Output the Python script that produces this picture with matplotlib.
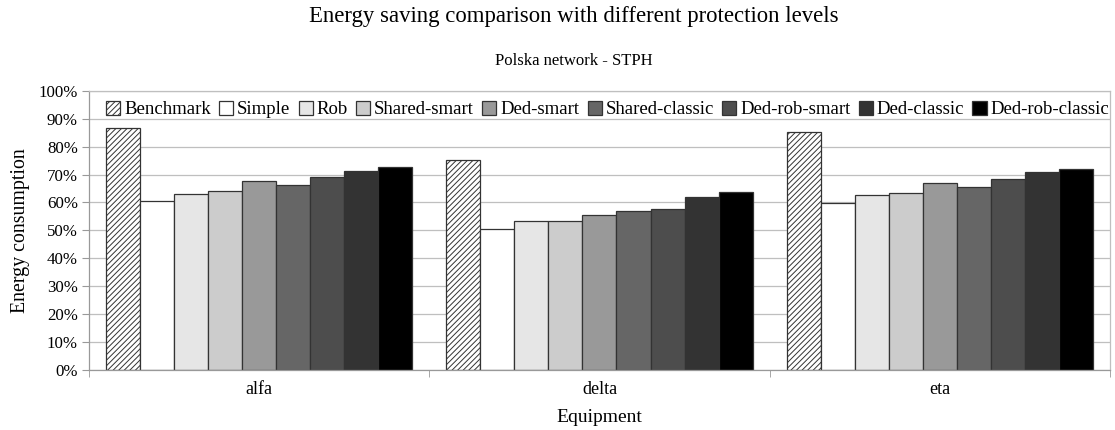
import numpy as np
import matplotlib
matplotlib.use("Agg")
import matplotlib.pyplot as plt
from matplotlib.ticker import PercentFormatter, FixedLocator

plt.rcParams['font.family'] = ['Liberation Serif', 'DejaVu Serif']
plt.rcParams['hatch.linewidth'] = 0.7

# data (percent)
equipment = ['alfa', 'delta', 'eta']
series = ['Benchmark', 'Simple', 'Rob', 'Shared-smart', 'Ded-smart',
          'Shared-classic', 'Ded-rob-smart', 'Ded-classic', 'Ded-rob-classic']
benchmark = [86.5, 75.2, 85.1]
simple = [60.5, 50.5, 59.9]
rob = [63.1, 53.3, 62.5]
shared_smart = [64.2, 53.3, 63.4]
ded_smart = [67.7, 55.6, 67.0]
shared_classic = [66.2, 57.0, 65.6]
ded_rob_smart = [69.2, 57.7, 68.5]
ded_classic = [71.3, 61.8, 70.8]
ded_rob_classic = [72.7, 63.9, 72.0]

values = [benchmark, simple, rob, shared_smart, ded_smart,
          shared_classic, ded_rob_smart, ded_classic, ded_rob_classic]
colors = ['white', 'white', '#e6e6e6', '#cccccc', '#999999',
          '#666666', '#4d4d4d', '#333333', '#000000']

fig = plt.figure(figsize=(11.15, 4.3), dpi=100)
ax = fig.add_axes([0.0798, 0.1395, 0.9157, 0.6495])

x = np.arange(len(equipment))
w = 0.1
for i, (name, vals, c) in enumerate(zip(series, values, colors)):
    pos = x - 0.45 + w / 2 + i * w
    if i == 0:
        ax.bar(pos, vals, w, color='white', edgecolor='#333333', hatch='//////',
               linewidth=0.9, label=name)
    else:
        ax.bar(pos, vals, w, color=c, edgecolor='#333333', linewidth=0.9, label=name)

ax.set_xlim(-0.5, 2.5)
ax.set_ylim(0, 100)
ax.set_yticks(np.arange(0, 101, 10))
ax.yaxis.set_major_formatter(PercentFormatter(decimals=0))
ax.grid(axis='y', color='#bfbfbf', linewidth=0.9)
ax.set_axisbelow(True)

ax.set_xticks(x)
ax.set_xticklabels(equipment)
ax.xaxis.set_minor_locator(FixedLocator([-0.5, 0.5, 1.5, 2.5]))
ax.tick_params(axis='x', which='major', length=0, labelsize=13, pad=8)
ax.tick_params(axis='x', which='minor', length=5, color='#999999')
ax.tick_params(axis='y', length=5, color='#999999', labelsize=12.2, pad=3)

for side in ['left', 'bottom', 'right', 'top']:
    ax.spines[side].set_color('#999999')
    ax.spines[side].set_linewidth(0.9)
ax.spines['top'].set_color('#bfbfbf')
ax.spines['right'].set_color('#bfbfbf')

ax.set_ylabel('Energy consumption', fontsize=14.3, labelpad=6)
ax.set_xlabel('Equipment', fontsize=14, labelpad=8)

leg = ax.legend(loc='upper center', bbox_to_anchor=(0.508, 1.0), ncol=9, frameon=False,
                fontsize=13.5, handlelength=0.75, handleheight=0.75,
                handletextpad=0.2, columnspacing=0.45, borderaxespad=0.15)

fig.text(0.5148, 0.962, 'Energy saving comparison with different protection levels',
         ha='center', va='center', fontsize=16.4)
fig.text(0.5148, 0.858, 'Polska network - STPH', ha='center', va='center', fontsize=12)

fig.savefig('out.png', dpi=100)
